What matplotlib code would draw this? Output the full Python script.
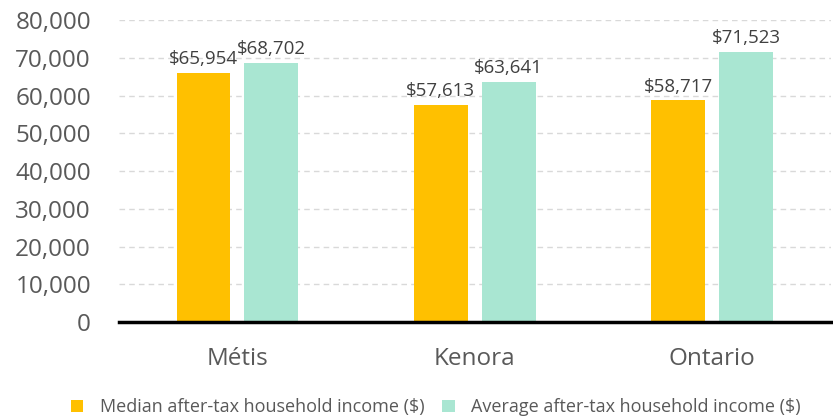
import matplotlib
matplotlib.use("Agg")
import matplotlib.pyplot as plt
import numpy as np
from matplotlib.ticker import FuncFormatter

categories = ["Métis", "Kenora", "Ontario"]
median_income = [65954, 57613, 58717]
average_income = [68702, 63641, 71523]
series_names = ["Median after-tax household income ($)", "Average after-tax household income ($)"]

plt.rcParams['font.family'] = ['Open Sans', 'DejaVu Sans']

fig = plt.figure(figsize=(8.33, 4.19), dpi=100)
ax = fig.add_axes([0.1425, 0.2315, 0.855, 0.7205])

x = np.arange(len(categories))
w = 0.227
off = 0.143
c1 = "#FFC000"
c2 = "#A9E6D2"
b1 = ax.bar(x - off, median_income, w, color=c1, label=series_names[0], zorder=3)
b2 = ax.bar(x + off, average_income, w, color=c2, label=series_names[1], zorder=3)

for bars in (b1, b2):
    for r in bars:
        ax.text(r.get_x() + r.get_width() / 2, r.get_height() + 1300, f"${int(r.get_height()):,}",
                ha="center", va="bottom", fontsize=13.5, color="#404040", zorder=4)

ax.set_xlim(-0.5, 2.5)
ax.set_ylim(0, 80000)
ax.set_yticks(np.arange(0, 80001, 10000))
ax.yaxis.set_major_formatter(FuncFormatter(lambda v, p: f"{int(v):,}"))
ax.set_xticks(x)
ax.set_xticklabels(categories)
ax.tick_params(axis='y', length=0, labelsize=17.5, labelcolor="#595959", pad=20)
ax.tick_params(axis='x', length=0, labelsize=17.5, labelcolor="#595959", pad=18)
ax.grid(axis='y', color="#d9d9d9", linestyle=(0, (4, 3)), linewidth=1, zorder=0)
for s in ["top", "right", "left"]:
    ax.spines[s].set_visible(False)
ax.spines["bottom"].set_linewidth(2.5)
ax.spines["bottom"].set_color("black")
ax.spines["bottom"].set_zorder(5)

fig.legend(handles=[b1, b2], loc="center", bbox_to_anchor=(0.523, 0.028), ncol=2, frameon=False,
           fontsize=13, handlelength=0.7, handleheight=0.7, handletextpad=0.9, columnspacing=1.0,
           labelcolor="#595959")

fig.savefig("out.png", dpi=100)
